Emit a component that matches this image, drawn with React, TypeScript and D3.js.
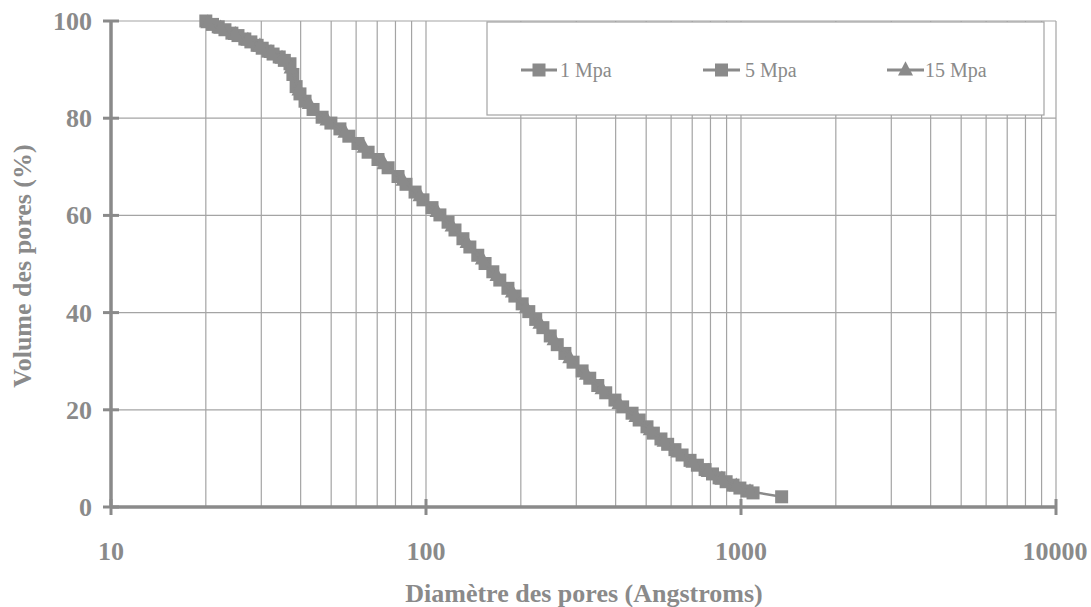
import React from "react";
import * as d3 from "d3";

// Cumulative pore volume vs pore diameter, three compaction pressures
const d1 = [20, 21.9, 24.2, 26.6, 29.1, 31.5, 34.2, 37.0, 38.7, 41.3, 46.8, 53.3, 60.8, 70.4, 81.5, 92.3, 104.5, 117.5, 131, 146, 163, 182, 202, 223, 248, 276, 313, 351, 398, 451, 503, 557, 617, 689, 769, 852, 944, 1045, 1346];
const v1 = [100, 98.8, 97.5, 96.3, 95.0, 93.8, 92.6, 91.2, 86.5, 83.5, 80.2, 77.8, 74.8, 71.5, 68, 64.8, 61.6, 58.6, 55.2, 51.8, 48.4, 45, 41.8, 38.6, 35.2, 31.6, 28, 25, 22, 19.3, 16.5, 14, 11.8, 9.6, 7.7, 6, 4.5, 3.3, 2.1];

const d5 = [21.0, 23.0, 25.3, 27.8, 30.2, 32.7, 35.5, 37.8, 39.8, 43.8, 49.9, 56.9, 65.5, 75.8, 86.4, 97.8, 110.7, 123.6, 137.8, 154, 171.5, 191.5, 212, 235, 261, 293, 331, 372, 421, 475, 527, 585, 650, 727, 812, 897, 992, 1092];
const v5 = [99.3, 98.2, 97, 95.7, 94.4, 93.2, 91.9, 89, 85, 81.8, 79, 76.3, 73, 69.8, 66.4, 63.2, 60.1, 57, 53.5, 50.1, 46.7, 43.4, 40.2, 36.9, 33.4, 29.8, 26.5, 23.5, 20.6, 17.9, 15.2, 12.9, 10.7, 8.6, 6.8, 5.2, 3.9, 2.9];

const d15 = [20.3, 22.3, 24.8, 27.2, 29.7, 32.2, 34.9, 37.3, 39.5, 42.6, 48.5, 55.3, 63.6, 73.6, 84.6, 95.7, 108.4, 121, 135, 151, 168, 188, 208, 230, 255, 286, 323, 362, 410, 464, 515, 570, 631, 704, 787, 870, 966, 1068];
const v15 = [99.6, 98.5, 97.2, 96, 94.8, 93.5, 92.3, 90.3, 85.8, 83, 79.6, 77.1, 74, 70.6, 67.2, 64, 60.8, 57.8, 54.4, 51, 47.6, 44.2, 41, 37.8, 34.4, 30.7, 27.3, 24.3, 21.3, 18.6, 15.9, 13.5, 11.3, 9.2, 7.3, 5.7, 4.3, 3.1];

const seriesNames = ["1 Mpa", "5 Mpa", "15 Mpa"];
const xTicks = [10, 100, 1000, 10000];
const yTicks = [0, 20, 40, 60, 80, 100];
const xTitle = "Diamètre des pores (Angstroms)";
const yTitle = "Volume des pores (%)";

const W = 1091;
const H = 607;
const INK = "#8a8a8a";
const GRID = "#a4a4a4";
const FONT = "'Liberation Serif', 'Times New Roman', serif";

export default function App() {
  const x = d3.scaleLog().domain([10, 10000]).range([111, 1056]);
  const y = d3.scaleLinear().domain([0, 100]).range([507, 21]);

  const series = [
    { name: seriesNames[0], pts: d1.map((d, i) => [d, v1[i]] as [number, number]), shape: "square" },
    { name: seriesNames[1], pts: d5.map((d, i) => [d, v5[i]] as [number, number]), shape: "square" },
    { name: seriesNames[2], pts: d15.map((d, i) => [d, v15[i]] as [number, number]), shape: "triangle" },
  ];

  const line = d3
    .line<[number, number]>()
    .x((p) => x(p[0]))
    .y((p) => y(p[1]));

  // minor log grid: 20..90, 200..900, 2000..10000
  const vGrid: number[] = [];
  [10, 100, 1000].forEach((dec) => {
    for (let k = 2; k <= 10; k++) vGrid.push(dec * k);
  });
  const hGrid = yTicks.filter((t) => t > 0);

  const [x0, x1] = x.range();
  const [y0, y1] = y.range();

  const marker = (shape: string, cx: number, cy: number, key: string | number) => {
    if (shape === "triangle") {
      const s = 15;
      const p = `${cx},${cy - s * 0.58} ${cx - s / 2},${cy + s * 0.36} ${cx + s / 2},${cy + s * 0.36}`;
      return <polygon key={key} points={p} fill={INK} />;
    }
    const s = 13;
    return <rect key={key} x={cx - s / 2} y={cy - s / 2} width={s} height={s} fill={INK} />;
  };

  const legendItems = [
    { x0: 521, x1: 557, tx: 560 },
    { x0: 703, x1: 740, tx: 745 },
    { x0: 887, x1: 924, tx: 925 },
  ];
  const legendY = 70;

  // the last tick label is held inside the right edge of the page
  const xLabelX = (t: number) => Math.min(x(t), W - 36);

  return (
    <svg width={W} height={H} style={{ position: "absolute", left: 0, top: 0, background: "#fff" }}>
      <rect x={0} y={0} width={W} height={H} fill="#fff" />
      {/* grid */}
      {vGrid.map((v) => (
        <line key={"vg" + v} x1={x(v)} x2={x(v)} y1={y0} y2={y1} stroke={GRID} strokeWidth={1.2} />
      ))}
      {hGrid.map((v) => (
        <line key={"hg" + v} x1={x0} x2={x1} y1={y(v)} y2={y(v)} stroke={GRID} strokeWidth={1.2} />
      ))}

      {/* legend box */}
      <rect x={487} y={22} width={557} height={93} fill="#fff" stroke={GRID} strokeWidth={1.2} />
      {series.map((s, i) => {
        const it = legendItems[i];
        const mx = (it.x0 + it.x1) / 2;
        return (
          <g key={"lg" + i}>
            <line x1={it.x0} x2={it.x1} y1={legendY} y2={legendY} stroke={INK} strokeWidth={3} />
            {marker(s.shape, mx, legendY, "lm" + i)}
            <text x={it.tx} y={legendY + 7} fontFamily={FONT} fontSize={20} fill={INK}>
              {s.name}
            </text>
          </g>
        );
      })}

      {/* axes */}
      <line x1={x0} x2={x0} y1={y0} y2={y1} stroke={INK} strokeWidth={3.5} />
      <line x1={x0} x2={x1} y1={y0} y2={y0} stroke={INK} strokeWidth={3.5} />
      {yTicks.map((t) => (
        <g key={"yt" + t}>
          <line x1={x0 - 8} x2={x0 + 8} y1={y(t)} y2={y(t)} stroke={INK} strokeWidth={3} />
          <text x={92} y={y(t) + 9} textAnchor="end" fontFamily={FONT} fontSize={26} fill={INK} fontWeight={600}>
            {t}
          </text>
        </g>
      ))}
      {xTicks.map((t) => (
        <g key={"xt" + t}>
          <line x1={x(t)} x2={x(t)} y1={y0 - 8} y2={y0 + 8} stroke={INK} strokeWidth={3} />
          <text x={xLabelX(t)} y={560} textAnchor="middle" fontFamily={FONT} fontSize={26} fill={INK} fontWeight={600}>
            {t}
          </text>
        </g>
      ))}

      {/* series */}
      {series.map((s, i) => (
        <g key={"s" + i}>
          <path d={line(s.pts) || ""} fill="none" stroke={INK} strokeWidth={2.5} />
          {s.pts.map((p, j) => marker(s.shape, x(p[0]), y(p[1]), j))}
        </g>
      ))}

      {/* titles */}
      <text x={584} y={602} textAnchor="middle" fontFamily={FONT} fontSize={26} fontWeight="bold" fill={INK}>
        {xTitle}
      </text>
      <text
        transform={`translate(31,266) rotate(-90)`}
        textAnchor="middle"
        fontFamily={FONT}
        fontSize={26}
        fontWeight="bold"
        fill={INK}
      >
        {yTitle}
      </text>
    </svg>
  );
}
